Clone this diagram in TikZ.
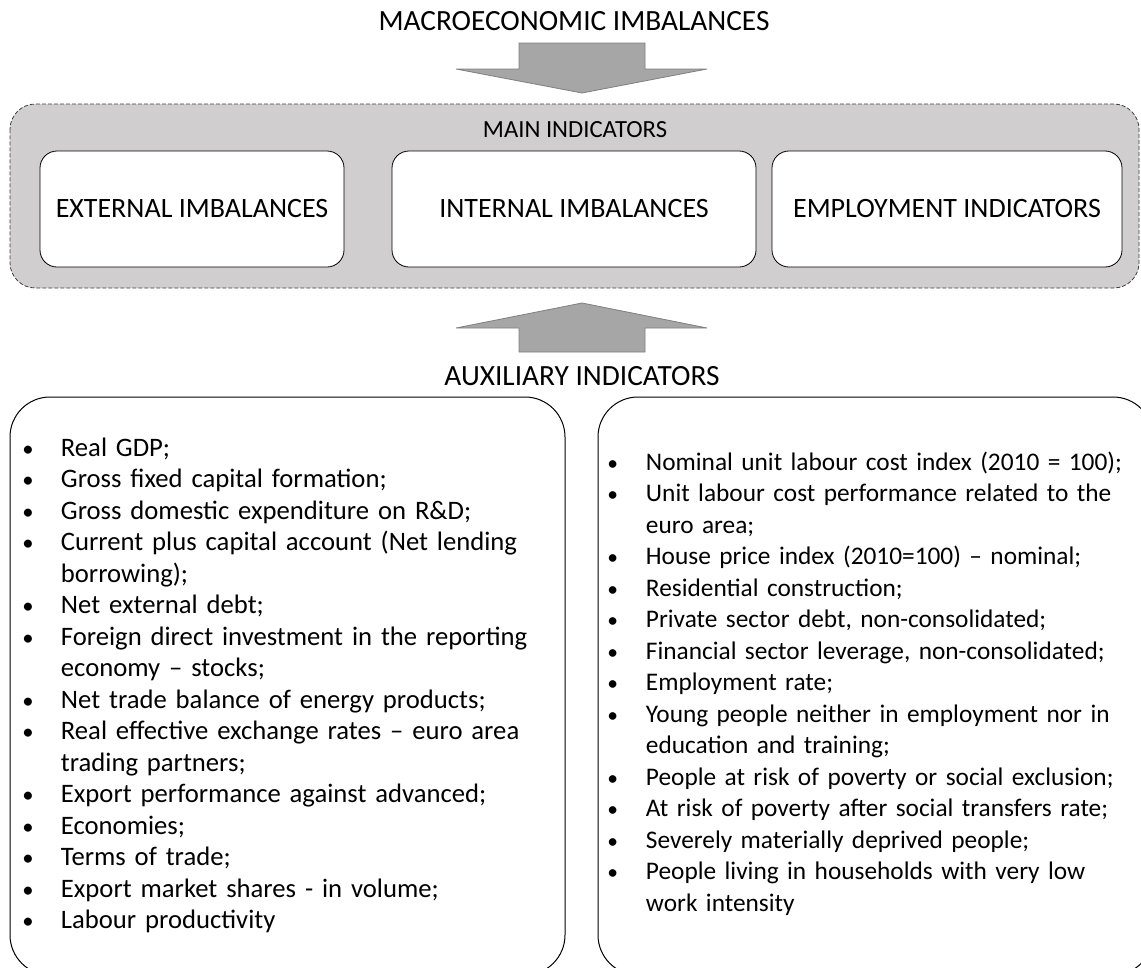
\documentclass[tikz,border=0pt]{standalone}
\usepackage{fontspec}
\setmainfont{Carlito}
\definecolor{arrowgray}{HTML}{A6A6A6}
\definecolor{arrowedge}{HTML}{7F7F7F}
\definecolor{panelgray}{HTML}{D0CECE}
\newcommand{\bitem}{\par\hangindent=29pt\hangafter=1\noindent
  \makebox[29pt][l]{\scalebox{0.85}{\textbullet}}}
\tikzset{
  txt/.style={font=\fontsize{21}{25}\selectfont, inner sep=0pt},
  headtxt/.style={font=\fontsize{22}{26}\selectfont, inner sep=0pt},
  mainbox/.style={txt, draw, fill=white, line width=0.6pt, rounded corners=12.75pt,
                  minimum height=87pt},
  listbox/.style={draw, line width=0.75pt, rounded corners=30pt},
  listtext/.style={inner sep=0pt, anchor=base west, text width=420pt},
  bigarrow/.style={fill=arrowgray, draw=arrowedge, line width=0.6pt}
}
\begin{document}
\begin{tikzpicture}[x=0.75pt, y=-0.75pt]
    \useasboundingbox (0,0) rectangle (1141,967);
    \clip (0,0) rectangle (1141,967);
    % top part
    \node[headtxt] (title) at (574,21) {MACROECONOMIC IMBALANCES};
    \draw[bigarrow] (519,43)--(645,43)--(645,69)--(707,69)--(582,93)--(456,69)--(519,69)--cycle;
    \draw[fill=panelgray, draw=black!75, line width=0.6pt, dash pattern=on 3pt off 1.5pt,
          rounded corners=19pt] (10,104) rectangle (1139,288);
    \node[txt, font=\fontsize{18.5}{22}\selectfont] (mainind) at (575,130) {MAIN INDICATORS};
    \node[mainbox, minimum width=228pt] (ext) at (192,209) {EXTERNAL IMBALANCES};
    \node[mainbox, minimum width=273pt] (int) at (574,209) {INTERNAL IMBALANCES};
    \node[mainbox, minimum width=262.5pt] (emp) at (947,209) {EMPLOYMENT INDICATORS};
    % bottom part
    \draw[bigarrow] (519,352)--(645,352)--(645,328)--(707,328)--(582,303)--(456,328)--(519,328)--cycle;
    \node[headtxt] (auxind) at (582,376) {AUXILIARY INDICATORS};
    \draw[listbox] (10,397) rectangle (565,975);
    \draw[listbox] (598,397) rectangle (1153,975);
    \node[listtext, font=\fontsize{20}{23.6}\selectfont] (leftlist) at (22,425) {%
      \bitem Real GDP;
      \bitem Gross fixed capital formation;
      \bitem Gross domestic expenditure on R\&D;
      \bitem Current plus capital account (Net lending\newline borrowing);
      \bitem Net external debt;
      \bitem Foreign direct investment in the reporting\newline economy -- stocks;
      \bitem Net trade balance of energy products;
      \bitem Real effective exchange rates -- euro area\newline trading partners;
      \bitem Export performance against advanced;
      \bitem Economies;
      \bitem Terms of trade;
      \bitem Export market shares - in volume;
      \bitem Labour productivity\par};
    \node[listtext, font=\fontsize{19}{23.6}\selectfont] (rightlist) at (607,439) {%
      \bitem Nominal unit labour cost index (2010 = 100);
      \bitem Unit labour cost performance related to the\newline euro area;
      \bitem House price index (2010=100) -- nominal;
      \bitem Residential construction;
      \bitem Private sector debt, non-consolidated;
      \bitem Financial sector leverage, non-consolidated;
      \bitem Employment rate;
      \bitem Young people neither in employment nor in\newline education and training;
      \bitem People at risk of poverty or social exclusion;
      \bitem At risk of poverty after social transfers rate;
      \bitem Severely materially deprived people;
      \bitem People living in households with very low\newline work intensity\par};
\end{tikzpicture}
\end{document}
